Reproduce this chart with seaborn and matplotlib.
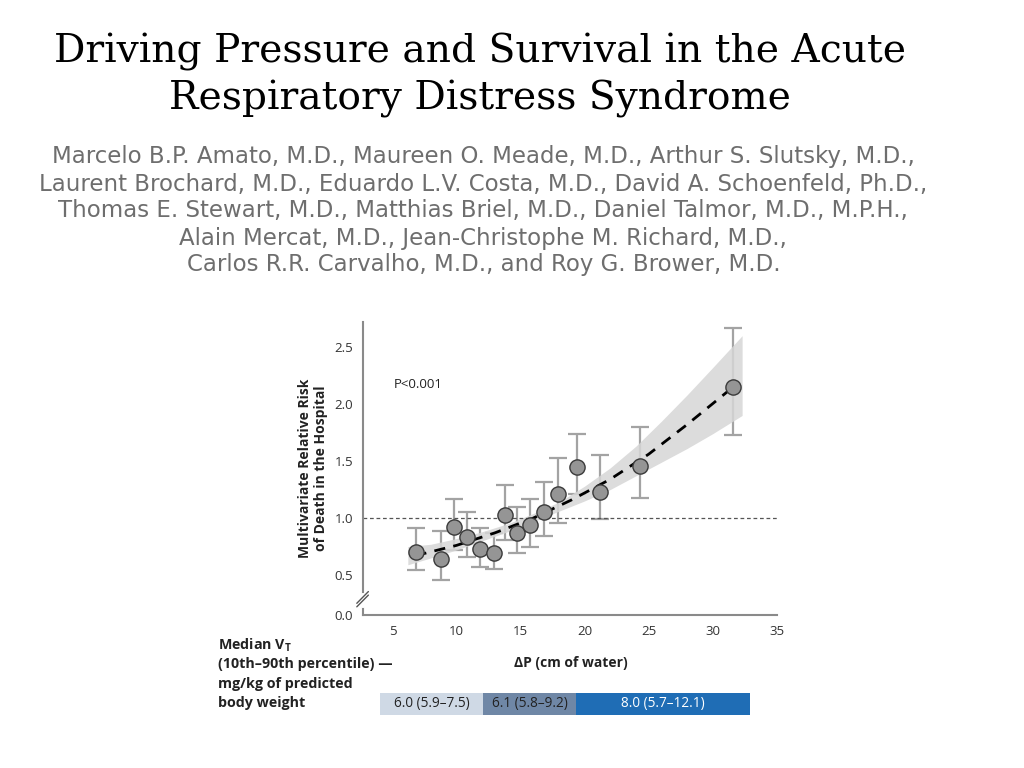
import matplotlib
matplotlib.use("Agg")
import matplotlib.pyplot as plt
import numpy as np
import pandas as pd
import seaborn as sns

# Data
dp = [6.8, 8.8, 9.8, 10.8, 11.8, 12.9, 13.8, 14.7, 15.7, 16.8, 17.9, 19.4, 21.2, 24.3, 31.6]
rr = [0.70, 0.64, 0.92, 0.83, 0.73, 0.69, 1.03, 0.87, 0.94, 1.05, 1.21, 1.45, 1.23, 1.46, 2.15]
rr_low = [0.54, 0.46, 0.72, 0.66, 0.57, 0.55, 0.81, 0.69, 0.75, 0.84, 0.96, 1.21, 0.99, 1.18, 1.73]
rr_high = [0.91, 0.89, 1.17, 1.05, 0.91, 0.87, 1.29, 1.10, 1.17, 1.32, 1.53, 1.74, 1.55, 1.80, 2.67]

fit_x = [6.8, 10, 13, 16, 19, 22, 25, 28, 31.6]
fit_y = [0.67, 0.76, 0.87, 1.00, 1.16, 1.34, 1.56, 1.82, 2.15]

band_x = [6.2, 8, 10, 12, 14, 16, 18, 20, 22, 24, 26, 28, 30, 32.3]
band_low = [0.59, 0.65, 0.72, 0.80, 0.88, 0.97, 1.06, 1.15, 1.25, 1.37, 1.49, 1.61, 1.74, 1.90]
band_high = [0.75, 0.77, 0.82, 0.88, 0.95, 1.04, 1.14, 1.28, 1.44, 1.63, 1.85, 2.08, 2.32, 2.60]

vt_edges = [4.0, 12.1, 19.3, 32.9]
vt_labels = ["6.0 (5.9\u20137.5)", "6.1 (5.8\u20139.2)", "8.0 (5.7\u201312.1)"]
vt_colors = ["#cfd9e5", "#6f87a6", "#1f6db5"]
vt_text_colors = ["#222222", "#222222", "white"]

y_ticks = [0.149, 0.5, 1.0, 1.5, 2.0, 2.5]
y_ticklabels = ["0.0", "0.5", "1.0", "1.5", "2.0", "2.5"]
x_ticks = [5, 10, 15, 20, 25, 30, 35]

title_lines = ["Driving Pressure and Survival in the Acute",
               "Respiratory Distress Syndrome"]
authors = [
    "Marcelo B.P. Amato, M.D., Maureen O. Meade, M.D., Arthur S. Slutsky, M.D.,",
    "Laurent Brochard, M.D., Eduardo L.V. Costa, M.D., David A. Schoenfeld, Ph.D.,",
    "Thomas E. Stewart, M.D., Matthias Briel, M.D., Daniel Talmor, M.D., M.P.H.,",
    "Alain Mercat, M.D., Jean-Christophe M. Richard, M.D.,",
    "Carlos R.R. Carvalho, M.D., and Roy G. Brower, M.D.",
]

sns.set_style("white")
plt.rcParams['font.family'] = ['Open Sans', 'DejaVu Sans']
plt.rcParams['mathtext.fontset'] = 'custom'
plt.rcParams['mathtext.rm'] = 'Open Sans'
plt.rcParams['mathtext.bf'] = 'Open Sans:bold'

fig = plt.figure(figsize=(10.24, 7.68), dpi=100)
ax = fig.add_axes([0.3545, 0.1992, 0.404, 0.3815])

points = pd.DataFrame({'dp': dp, 'rr': rr})
fit = pd.DataFrame({'dp': fit_x, 'rr': fit_y})

yerr = [np.array(rr) - np.array(rr_low), np.array(rr_high) - np.array(rr)]
ax.errorbar(dp, rr, yerr=yerr, fmt='none', ecolor='#a3a3a3', elinewidth=1.6,
            capsize=6.5, capthick=1.6, zorder=1)
ax.fill_between(band_x, band_low, band_high, color='#d6d6d6', alpha=0.85,
                lw=0, zorder=2)
ax.axhline(1.0, color='#555555', lw=0.9, dashes=(3, 2.2), zorder=2)
sns.lineplot(data=fit, x='dp', y='rr', ax=ax, color='black', lw=2,
             dashes=False, zorder=3)
ax.lines[-1].set_dashes((4, 3))
sns.scatterplot(data=points, x='dp', y='rr', ax=ax, s=120, color='#959595',
                edgecolor='#3a3a3a', linewidth=1, zorder=4)

ax.set_xlim(2.7, 35)
ax.set_ylim(0.149, 2.72)
ax.set_xticks(x_ticks)
ax.set_yticks(y_ticks)
ax.set_yticklabels(y_ticklabels)
sns.despine(ax=ax)
for s in ['left', 'bottom']:
    ax.spines[s].set_color('#8a8a8a')
    ax.spines[s].set_linewidth(1.5)
ax.tick_params(axis='both', direction='out', length=5, width=1.2,
               color='#8a8a8a', labelsize=9.5, labelcolor='#333333', pad=2)
ax.set_xlabel("")
ax.set_ylabel("Multivariate Relative Risk\nof Death in the Hospital",
              fontsize=10, fontweight='bold', color='#222222', labelpad=5,
              linespacing=1.1)
ax.text(5.1, 2.17, "P<0.001", fontsize=9.5, color='#222222', va='center')

# axis break marks
ax.plot([0, 0], [0.03, 0.07], transform=ax.transAxes, color='white', lw=3,
        clip_on=False, zorder=5)
for off in [0.0, 0.012]:
    ax.plot([-0.015, 0.013], [0.028 + off, 0.068 + off], transform=ax.transAxes,
            color='#555555', lw=1, clip_on=False, zorder=6)

fig.text(0.557, 1 - 663 / 768, "\u0394P (cm of water)", fontsize=10,
         fontweight='bold', ha='center', va='center', color='#222222')
vt_caption = ["Median V$_\\mathbf{T}$", "(10th\u201390th percentile) \u2014",
              "mg/kg of predicted", "body weight"]
for i, line in enumerate(vt_caption):
    fig.text(0.213, 1 - (645 + 19.3 * i) / 768, line, fontsize=10.3,
             fontweight='bold', ha='left', va='center', color='#222222')

# tidal volume bar
bx = fig.add_axes([0.3545, 1 - 715 / 768, 0.404, 22 / 768])
for i in range(len(vt_labels)):
    left = vt_edges[i]
    width = vt_edges[i + 1] - vt_edges[i]
    bx.barh(0, width, left=left, height=1, color=vt_colors[i], lw=0)
    bx.text(left + width / 2, 0, vt_labels[i], ha='center', va='center',
            fontsize=9.8, color=vt_text_colors[i])
bx.set_xlim(2.7, 35)
bx.set_ylim(-0.5, 0.5)
bx.axis('off')

for i, line in enumerate(title_lines):
    fig.text(0.469, 1 - (52 + 47 * i) / 768, line, fontsize=28.2, ha='center',
             va='center', family=['DejaVu Serif'], color='black')
for i, line in enumerate(authors):
    fig.text(0.472, 1 - (157 + 27 * i) / 768, line, fontsize=16.5, ha='center',
             va='center', family=['DejaVu Sans'], color='#6e6e6e')

fig.savefig('out.png', dpi=100)
